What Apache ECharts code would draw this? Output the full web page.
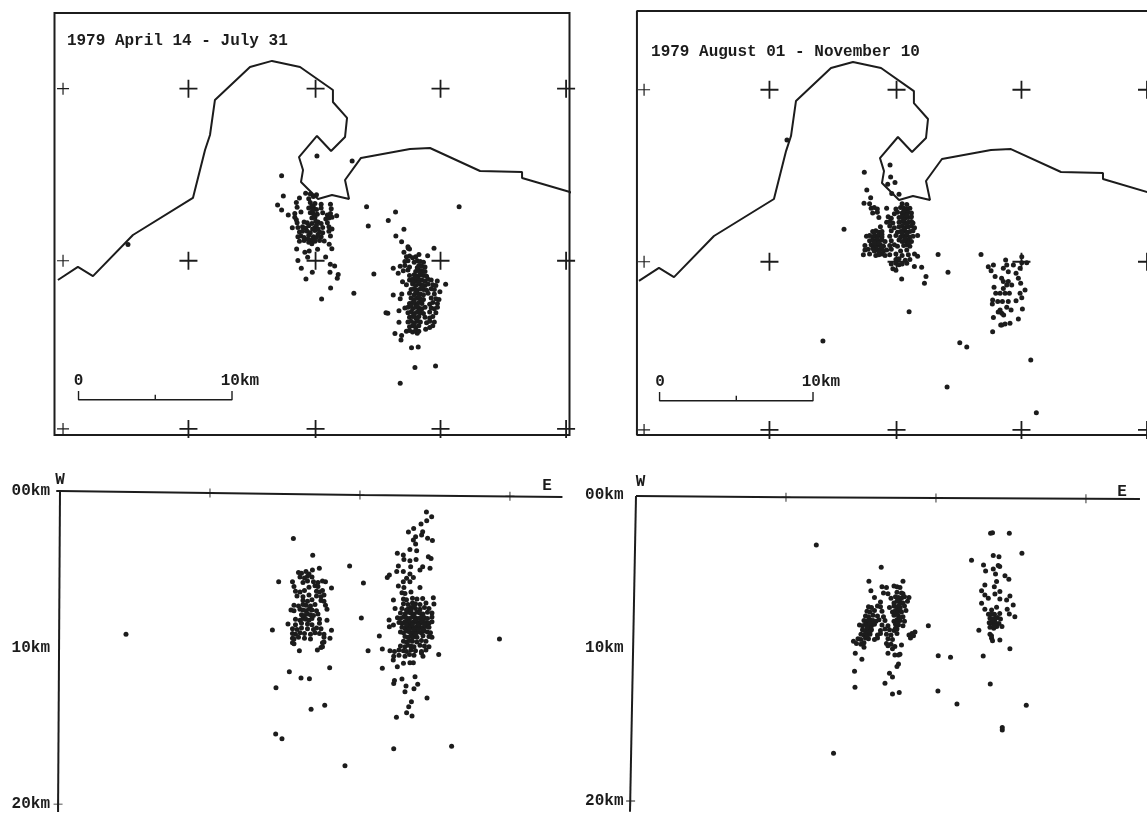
<!DOCTYPE html>
<html><head><meta charset="utf-8">
<script src="https://cdn.jsdelivr.net/npm/echarts@6/dist/echarts.min.js"></script>
<style>html,body{margin:0;padding:0;background:#fff}#c{width:1147px;height:813px}</style>
</head><body><div id="c"></div>
<script>
// Map panels: km east and km north from the map's lower-left corner
const coastline=[[0.32,9.81],[1.61,10.65],[2.58,10.06],[5.16,12.71],[9.03,15.10],[9.81,18.19],[10.13,19.16],[10.45,21.42],[12.71,23.55],[14.13,23.94],[15.94,23.55],[18.06,22.06],[18.06,21.29],[18.97,20.26],[18.84,19.03],[17.94,18.13],[17.03,19.10],[15.87,17.74],[16.13,16.90],[16.0,16.13],[17.10,15.03],[18.0,15.29],[19.10,15.03],[18.84,16.26],[19.87,17.68],[23.03,18.26],[24.32,18.32],[27.55,16.84],[30.26,16.77],[30.26,16.39],[33.35,15.48],[34.2,15.1]];
const crossEast=[0.65,8.74,16.94,25.0,33.1];
const crossNorth=[22.15,11.05,0.2];
const scaleBarKm=[[1.65,2.65],[1.65,2.08],[6.6,2.08],[6.6,2.4],[6.6,2.08],[11.55,2.08],[11.55,2.65]];
const augFrameKm=[[40,27.23],[0.19,27.23],[0.19,-0.13],[40,-0.13]];
const aprMapPoints=[[14.75,16.54],[14.86,15.23],[14.49,14.65],[14.75,14.32],[15.18,14.0],[15.44,13.18],[17.03,17.8],[19.3,17.48],[4.84,12.1],[26.2,14.54],[20.23,14.54],[22.1,14.2],[21.63,13.64],[20.34,13.29],[22.64,13.08],[22.12,12.65],[22.49,12.28],[24.58,11.85],[20.7,10.2],[19.41,8.95],[17.91,9.29],[17.33,8.58],[16.32,9.87],[18.34,9.92],[18.4,10.17],[17.87,10.3],[18.17,10.71],[17.89,10.82],[16.73,10.3],[16.02,10.56],[15.8,11.06],[16.43,11.27],[17.59,11.29],[17.99,11.83],[17.82,12.11],[17.07,11.79],[16.25,11.59],[15.72,11.81],[16.53,11.68],[17.5,12.32],[25.33,9.53],[24.79,9.74],[24.96,9.05],[21.95,8.84],[21.48,7.7],[21.6,7.67],[22.32,7.83],[22.32,7.08],[22.06,6.35],[22.45,5.94],[22.49,6.22],[23.13,5.44],[23.56,5.49],[23.35,4.17],[24.68,4.26],[22.4,3.14],[24.04,6.63],[23.5,6.37],[21.95,10.56],[22.27,10.24],[23.61,11.46],[24.17,11.38],[22.92,11.85],[22.64,11.59],[22.55,9.7],
[16.3,15.4],[16.6,15.35],[17.0,15.3],[15.9,15.1],[16.5,15.05],[16.8,15.2],[15.7,14.8],[16.6,14.8],[16.9,14.75],[17.3,14.7],[17.9,14.7],[15.75,14.5],[16.5,14.45],[16.8,14.5],[17.0,14.35],[17.3,14.45],[17.95,14.4],[15.6,14.1],[16.0,14.2],[16.6,14.15],[16.8,14.1],[17.05,14.05],[17.4,14.15],[17.7,14.0],[17.9,14.1],[15.6,13.85],[15.7,13.7],[16.7,13.8],[16.9,13.85],[17.6,13.75],[17.8,13.8],[18.0,13.85],[18.3,13.95],[15.75,13.5],[16.2,13.55],[16.4,13.5],[16.7,13.45],[17.1,13.55],[17.3,13.45],[17.7,13.5],[15.8,13.2],[16.1,13.25],[16.3,13.15],[16.5,13.3],[16.9,13.2],[17.1,13.1],[17.4,13.2],[17.8,13.25],[18.0,13.1],[15.9,12.9],[16.1,12.95],[16.6,12.85],[16.9,13.0],[17.2,12.9],[17.4,12.85],[17.8,12.95],[15.8,12.6],[16.0,12.65],[16.2,12.55],[16.5,12.7],[16.8,12.6],[17.0,12.55],[17.3,12.6],[17.9,12.65],[15.9,12.3],[16.2,12.35],[16.5,12.25],[16.7,12.4],[16.9,12.3],[17.2,12.35],
[16.7,14.6],[16.75,14.3],[16.85,13.95],[16.95,13.6],[17.0,13.35],[16.75,13.1],[16.4,12.95],[16.45,12.45],[16.7,12.15],[17.1,12.75],
[22.9,11.95],[23.0,11.8],[22.8,11.3],[23.0,11.35],[23.2,11.25],[23.4,11.3],[22.7,11.0],[22.9,11.05],[23.3,10.95],[23.5,11.05],[23.7,11.0],[23.9,10.95],[22.4,10.7],[22.7,10.75],[23.0,10.65],[23.6,10.75],[23.8,10.7],[24.0,10.65],[22.6,10.4],[22.9,10.45],[23.4,10.35],[23.6,10.45],[23.8,10.4],[24.0,10.35],[23.0,10.1],[23.3,10.15],[23.5,10.05],[23.7,10.15],[23.9,10.1],[24.1,10.05],[23.0,9.8],[23.2,9.85],[23.4,9.75],[23.6,9.85],[23.8,9.8],[24.0,9.75],[24.2,9.85],[24.4,9.8],[22.8,9.5],[23.2,9.55],[23.4,9.45],[23.6,9.55],[23.8,9.5],[24.0,9.45],[24.2,9.55],[24.5,9.5],[24.7,9.45],[23.1,9.2],[23.3,9.25],[23.5,9.15],[23.7,9.25],[23.9,9.2],[24.1,9.15],[24.4,9.25],[24.6,9.2],[22.5,8.9],[23.0,8.95],[23.3,8.85],[23.5,8.95],[23.7,8.9],[23.9,8.85],[24.2,8.95],[24.6,8.9],[22.4,8.6],[23.1,8.65],[23.3,8.55],[23.5,8.65],[23.7,8.6],[23.9,8.55],[24.4,8.65],[24.7,8.6],[24.9,8.55],[23.0,8.3],[23.2,8.35],[23.4,8.25],[23.6,8.35],[23.8,8.3],[24.3,8.25],[24.5,8.35],[24.8,8.3],[22.7,8.0],[22.9,8.05],[23.2,7.95],[23.4,8.05],[23.6,8.0],[23.8,7.95],[24.0,8.05],[24.4,8.0],[24.6,7.95],[24.8,8.05],[22.9,7.7],[23.1,7.75],[23.3,7.65],[23.5,7.75],[23.7,7.7],[23.9,7.65],[24.3,7.75],[24.7,7.7],[23.0,7.4],[23.2,7.45],[23.4,7.35],[23.6,7.45],[24.0,7.4],[24.3,7.35],[24.5,7.45],[22.9,7.1],[23.1,7.15],[23.3,7.05],[23.5,7.15],[23.7,7.1],[24.1,7.05],[24.3,7.15],[24.6,7.1],[23.0,6.8],[23.2,6.85],[23.4,6.75],[23.6,6.85],[24.3,6.75],[24.5,6.85],[22.8,6.5],[23.0,6.55],[23.2,6.45],[23.4,6.55],[23.6,6.5],
[23.5,10.6],[23.7,10.25],[23.4,9.95],[23.6,9.65],[23.8,9.35],[23.4,9.05],[23.6,8.75],[23.8,8.45],[23.3,8.4],[23.5,8.15],[23.7,7.85],[23.3,7.55],[23.5,7.3],[23.3,6.95],[23.1,8.15],[23.2,9.7]];
const augMapPoints=[[14.86,16.82],[16.52,17.29],[16.56,16.52],[16.84,16.17],[16.37,16.05],[15.02,15.68],[15.27,15.18],[14.84,14.82],[17.1,15.4],[16.63,15.46],[13.55,13.14],[19.62,11.51],[22.39,11.51],[20.26,10.37],[18.84,10.09],[18.74,9.66],[18.09,10.75],[18.56,10.69],[17.27,9.94],[17.75,7.83],[21.02,5.83],[21.47,5.55],[25.6,4.71],[20.2,2.97],[25.96,1.31],[23.14,6.54],[24.8,7.36],[25.06,8.0],[23.19,7.46],[23.66,6.97],[12.19,5.94],[9.87,18.9],
[17.3,14.8],[17.6,14.75],[15.2,14.8],[15.3,14.5],[15.5,14.55],[15.7,14.45],[16.3,14.5],[16.9,14.45],[17.2,14.55],[17.4,14.5],[17.6,14.45],[17.8,14.5],[15.4,14.2],[15.7,14.25],[16.8,14.15],[17.0,14.25],[17.3,14.2],[17.5,14.15],[17.7,14.25],[17.9,14.2],[15.8,13.9],[16.4,13.95],[16.6,13.85],[17.1,13.9],[17.3,13.95],[17.5,13.85],[17.7,13.9],[17.9,13.95],[16.3,13.6],[16.5,13.65],[16.7,13.55],[17.1,13.6],[17.3,13.65],[17.5,13.55],[17.7,13.6],[17.9,13.65],[18.0,13.55],[15.9,13.3],[16.5,13.35],[16.8,13.25],[17.1,13.3],[17.3,13.35],[17.5,13.25],[17.7,13.3],[17.9,13.35],[18.1,13.25],[15.4,13.0],[15.6,13.05],[15.8,12.95],[16.0,13.0],[16.6,13.05],[17.0,12.95],[17.2,13.0],[17.4,13.05],[17.6,12.95],[17.8,13.0],[18.0,13.05],[15.0,12.7],[15.2,12.75],[15.4,12.65],[15.6,12.7],[15.8,12.75],[16.0,12.65],[16.5,12.7],[16.9,12.75],[17.2,12.65],[17.4,12.7],[17.6,12.75],[17.8,12.65],[18.0,12.7],[18.3,12.75],[15.2,12.4],[15.4,12.45],[15.6,12.35],[15.8,12.4],[16.0,12.45],[16.2,12.35],[16.6,12.4],[17.1,12.45],[17.3,12.35],[17.5,12.4],[17.7,12.45],[17.9,12.35],[14.9,12.1],[15.3,12.15],[15.5,12.05],[15.7,12.1],[15.9,12.15],[16.1,12.05],[16.5,12.1],[16.8,12.15],[17.0,12.05],[17.4,12.1],[17.6,12.15],[17.8,12.05],[14.9,11.8],[15.1,11.85],[15.5,11.75],[15.7,11.8],[15.9,11.85],[16.1,11.75],[16.3,11.8],[16.6,11.85],[17.2,11.75],[17.6,11.8],[14.8,11.5],[15.2,11.55],[15.6,11.45],[15.8,11.5],[16.0,11.55],[16.2,11.45],[16.5,11.5],[16.9,11.55],[17.3,11.45],[17.7,11.5],[18.1,11.55],[18.3,11.4],[16.9,11.2],[17.1,11.25],[17.5,11.15],[17.8,11.2],[16.6,10.9],[16.9,10.95],[17.1,10.85],[17.3,10.9],[17.6,10.95],[16.7,10.6],[16.9,10.5],
[17.4,14.3],[17.6,14.05],[17.4,13.75],[17.6,13.45],[17.4,13.15],[17.6,12.85],[17.5,12.55],[17.7,12.25],[17.3,12.9],[15.5,12.9],[15.7,12.55],[15.5,12.25],[15.8,12.25],[15.6,11.95],[15.8,11.65],[16.0,12.8],[16.0,12.0],[15.4,11.9]];
const augMapE=[[22.86,10.73],[23.19,10.84],[23.04,10.47],[23.98,11.16],[24.05,10.84],[23.83,10.63],[24.15,10.41],[24.48,10.84],[25.02,11.38],[25.02,10.99],[25.34,10.99],[24.91,10.63],[24.65,10.3],[24.8,9.98],[24.95,9.66],[23.3,10.09],[23.72,9.98],[23.83,9.77],[24.05,9.55],[24.37,9.55],[24.15,9.77],[23.23,9.4],[23.83,9.33],[23.62,9.01],[23.94,9.01],[24.22,9.01],[23.34,9.01],[25.23,9.23],[24.91,9.01],[25.02,8.73],[24.65,8.54],[23.14,8.58],[23.12,8.33],[23.47,8.48],[23.77,8.48],[24.15,8.48],[24.05,8.11],[24.33,7.94],[23.62,7.94],[23.73,7.72],[23.5,7.8],[23.85,7.62],[23.94,7.03],[24.26,7.08],[23.73,6.97]];
// Depth sections: km east of the W end, depth in km
const aprDepthPoints=[[15.56,3.03],[16.85,4.11],[17.29,4.94],[16.83,5.05],[19.31,4.79],[20.23,5.88],[14.58,5.79],[20.09,8.12],[14.16,8.88],[20.54,10.2],[21.29,9.27],[21.49,10.1],[21.49,11.33],[25.25,10.44],[17.98,11.29],[15.96,10.2],[17.16,10.16],[15.29,11.54],[16.07,11.95],[16.63,12.0],[14.4,12.57],[16.74,13.95],[17.65,13.69],[14.38,15.53],[14.8,15.83],[19.0,17.55],[22.25,16.46],[26.11,16.3],[24.47,13.23],[22.43,14.46],[23.47,14.38],[23.11,14.16],[23.25,13.78],[23.43,13.46],[23.0,12.82],[23.07,12.46],[23.6,12.63],[23.85,12.35],[23.67,11.86],[22.8,12.01],[22.25,12.29],[22.3,12.1],[22.49,11.22],[22.9,11.01],[23.33,10.97],[23.56,10.97],[22.22,10.8],[22.25,10.55],[4.4,9.15],[29.3,9.45],
[24.43,1.34],[24.78,1.64],[24.45,1.9],[24.07,2.11],[23.58,2.39],[24.18,2.6],[23.23,2.62],[24.11,2.81],[23.71,2.92],[24.51,3.02],[24.83,3.17],[23.56,3.13],[23.71,3.39],[23.33,3.73],[23.78,3.81],[22.49,3.98],[22.89,4.09],[24.56,4.2],[24.74,4.32],[22.93,4.37],[23.33,4.45],[23.74,4.37],[24.18,4.84],[24.0,5.05],[24.67,4.94],[22.56,4.79],[23.38,4.84],[22.45,5.15],[21.96,5.37],[21.82,5.52],[22.89,5.15],[23.33,5.3],[23.56,5.52],[23.11,5.58],[22.89,5.79],[22.56,6.07],[23.33,5.79],[22.93,6.16],[24.0,6.16],[22.23,6.96],[24.89,6.82],[24.93,7.22],[24.18,6.86],[22.34,7.5],[21.94,8.24],[22.23,8.56],[21.96,8.67],
[22.8,6.5],[23.0,6.55],[23.4,6.45],[22.9,6.9],[23.1,6.95],[23.5,6.85],[23.8,6.9],[22.9,7.2],[23.2,7.25],[23.5,7.15],[23.7,7.2],[24.0,7.25],[24.4,7.15],[22.8,7.5],[23.2,7.55],[23.4,7.45],[23.7,7.5],[24.0,7.55],[24.3,7.45],[24.6,7.5],[22.7,7.8],[23.0,7.85],[23.2,7.75],[23.4,7.8],[23.6,7.85],[23.8,7.75],[24.0,7.8],[24.2,7.85],[24.5,7.75],[24.8,7.8],[22.5,8.1],[22.7,8.15],[22.9,8.05],[23.1,8.1],[23.3,8.15],[23.5,8.05],[23.7,8.1],[23.9,8.15],[24.1,8.05],[24.3,8.1],[24.5,8.15],[24.8,8.05],[22.6,8.4],[22.8,8.45],[23.0,8.35],[23.2,8.4],[23.4,8.45],[23.6,8.35],[23.8,8.4],[24.0,8.45],[24.2,8.35],[24.4,8.4],[24.6,8.45],[24.8,8.35],[22.8,8.7],[23.0,8.75],[23.2,8.65],[23.4,8.7],[23.6,8.75],[23.8,8.65],[24.0,8.7],[24.2,8.75],[24.4,8.65],[24.6,8.7],[22.7,9.0],[22.9,9.05],[23.1,8.95],[23.3,9.0],[23.5,9.05],[23.7,8.95],[23.9,9.0],[24.1,9.05],[24.3,8.95],[24.5,9.0],[24.7,9.05],[23.0,9.3],[23.2,9.35],[23.4,9.25],[23.6,9.3],[23.8,9.35],[24.2,9.25],[24.6,9.3],[24.8,9.35],[22.9,9.6],[23.1,9.65],[23.3,9.55],[23.5,9.6],[23.8,9.65],[24.1,9.55],[24.4,9.6],[22.7,9.9],[23.0,9.95],[23.2,9.85],[23.4,9.9],[23.6,9.95],[24.0,9.85],[24.3,9.9],[24.6,9.95],[22.0,10.2],[22.3,10.25],[22.6,10.15],[22.9,10.2],[23.1,10.25],[23.4,10.15],[23.7,10.2],[24.1,10.25],[24.4,10.15],[22.6,10.5],[23.0,10.55],[23.3,10.45],[23.6,10.5],[24.2,10.55],[24.1,10.35],
[23.3,8.3],[23.5,8.55],[23.7,8.25],[23.9,8.55],[24.1,8.3],[24.3,8.55],[23.1,8.55],[23.3,8.85],[23.6,8.85],[23.9,8.85],[24.2,8.9],[23.5,9.35],[23.7,9.15],[23.4,7.6],[23.1,7.6],[23.6,7.35],
[15.9,5.2],[16.1,5.25],[16.4,5.15],[16.6,5.3],[16.0,5.5],[16.3,5.55],[16.5,5.45],[16.8,5.5],[15.5,5.8],[16.2,5.85],[16.5,5.75],[16.9,5.8],[17.2,5.85],[17.5,5.75],[17.7,5.8],[15.6,6.1],[16.6,6.15],[17.0,6.05],[17.2,6.1],[18.1,6.2],[15.7,6.4],[16.0,6.45],[16.3,6.35],[17.1,6.4],[17.3,6.45],[17.5,6.35],[15.8,6.7],[16.2,6.75],[16.6,6.65],[17.1,6.7],[17.4,6.75],[17.6,6.65],[16.2,7.0],[16.5,7.05],[16.8,6.95],[17.4,7.0],[17.6,7.05],[15.6,7.3],[15.9,7.35],[16.2,7.25],[16.4,7.3],[16.7,7.35],[17.0,7.25],[17.7,7.3],[15.4,7.6],[15.6,7.65],[16.0,7.55],[16.2,7.6],[16.4,7.65],[16.6,7.55],[16.8,7.6],[17.1,7.65],[17.8,7.55],[16.1,7.9],[16.3,7.95],[16.5,7.85],[16.7,7.9],[16.9,7.95],[17.2,7.85],[15.7,8.2],[16.0,8.25],[16.2,8.15],[16.4,8.2],[16.6,8.25],[16.8,8.15],[17.3,8.2],[17.8,8.25],[15.2,8.5],[15.7,8.55],[16.1,8.45],[16.5,8.5],[16.8,8.55],[17.3,8.45],[15.5,8.8],[15.8,8.85],[16.1,8.75],[16.5,8.8],[16.9,8.85],[17.1,8.75],[17.4,8.8],[18.1,8.9],[15.5,9.1],[15.7,9.15],[16.0,9.05],[16.3,9.1],[16.7,9.15],[17.0,9.05],[17.3,9.1],[17.6,9.15],[15.5,9.4],[15.6,9.45],[15.9,9.35],[16.3,9.4],[16.7,9.45],[17.6,9.35],[18.0,9.4],[15.5,9.7],[15.6,9.75],[17.6,9.65],[17.5,9.7],[17.4,10.0],[17.5,9.95]];
const augDepthPoints=[[12.02,3.26],[16.35,4.72],[15.53,5.64],[17.8,5.64],[15.66,6.25],[19.49,8.54],[20.15,10.5],[20.97,10.6],[20.13,12.81],[21.4,13.66],[13.17,16.88],[14.6,12.57],[14.57,11.52],[15.06,10.74],[14.62,10.34],[24.42,15.36],[24.42,15.2],[26.02,13.74],[23.62,12.35],[23.15,10.52],[24.93,10.04],[22.86,8.84],[23.64,2.5],[23.77,2.46],[24.89,2.5],[25.73,3.81],[22.37,4.27],[23.82,3.96],[24.2,4.03],[23.17,4.57],[23.31,4.96],[23.82,4.83],[24.15,4.61],[24.25,4.68],[23.97,5.16],[24.6,5.27],[24.86,5.51],[24.04,5.66],[23.26,5.88],[23.89,5.99],[23.04,6.25],[24.26,6.31],[23.93,6.47],[23.26,6.53],[23.49,6.75],[24.93,6.6],[24.71,6.86],[24.26,6.79],[25.15,7.19],[24.75,7.47],[24.89,7.77],[25.26,7.95],[23.04,7.08],[23.26,7.47],[23.71,7.51],[24.04,7.34],[23.5,7.8],[23.9,7.8],[24.25,7.75],[23.6,8.05],[23.8,8.1],[24.1,8.0],[24.3,8.1],[23.55,8.35],[23.75,8.4],[23.95,8.3],[24.2,8.4],[23.6,8.65],[23.85,8.7],[24.05,8.6],[24.4,8.6],[23.71,9.36],[24.26,9.47],[23.77,9.52],[23.6,9.1],[23.7,9.2],[23.7,7.8],[23.95,8.05],[23.75,8.15],[23.9,8.55],
[16.4,6.0],[16.7,6.05],[17.2,5.95],[17.4,6.0],[17.6,6.05],[16.5,6.4],[16.8,6.45],[17.4,6.35],[17.7,6.4],[17.8,6.45],[15.9,6.7],[17.0,6.75],[17.3,6.65],[17.5,6.7],[17.7,6.75],[17.9,6.65],[18.2,6.7],[16.3,7.0],[17.2,7.05],[17.4,6.95],[17.6,7.0],[17.8,7.05],[18.1,6.95],[15.5,7.3],[15.7,7.35],[16.1,7.25],[16.3,7.3],[16.9,7.35],[17.2,7.25],[17.4,7.3],[17.6,7.35],[17.9,7.25],[15.4,7.6],[15.6,7.65],[15.9,7.55],[16.4,7.6],[17.1,7.65],[17.3,7.55],[17.5,7.6],[17.7,7.65],[18.0,7.55],[15.3,7.9],[15.5,7.95],[15.8,7.85],[16.1,7.9],[16.5,7.95],[17.2,7.85],[17.5,7.9],[17.8,7.95],[15.2,8.2],[15.4,8.25],[15.6,8.15],[15.8,8.2],[16.0,8.25],[16.2,8.15],[16.6,8.2],[17.2,8.25],[17.4,8.15],[17.6,8.2],[17.9,8.25],[14.9,8.5],[15.1,8.55],[15.3,8.45],[15.5,8.5],[15.7,8.55],[15.9,8.45],[16.4,8.5],[16.8,8.55],[17.3,8.45],[17.5,8.5],[17.8,8.55],[15.1,8.8],[15.3,8.85],[15.5,8.75],[15.7,8.8],[16.3,8.85],[16.6,8.75],[16.9,8.8],[17.2,8.85],[17.4,8.75],[15.0,9.1],[15.2,9.15],[15.4,9.05],[15.6,9.1],[16.1,9.15],[16.3,9.05],[16.7,9.1],[17.0,9.15],[17.4,9.05],[18.2,9.15],[18.4,9.05],[18.6,8.95],[14.8,9.4],[15.0,9.45],[15.3,9.35],[15.5,9.4],[15.9,9.45],[16.1,9.35],[16.8,9.4],[17.1,9.45],[18.3,9.35],[18.5,9.2],[14.5,9.55],[14.7,9.7],[15.0,9.75],[15.2,9.65],[16.7,9.7],[17.0,9.75],[15.2,9.95],[16.8,9.85],[17.26,9.9],[17.7,9.8],[17.1,10.05],[16.8,10.34],[17.26,10.45],[17.5,10.45],[17.6,10.4],[17.4,11.2],[17.5,11.05],[16.9,11.65],[17.1,11.9],[16.6,12.3],[17.55,12.9],[17.1,13.0],
[17.45,6.9],[17.6,7.45],[17.4,7.75],[17.6,8.05],[17.45,8.4],[17.3,8.7],[17.55,7.2],[15.5,8.2],[15.4,8.65],[15.6,8.95],[15.3,9.05],[15.8,8.4],[15.6,8.4],[15.4,9.25]];
const depthTickLabels={0:'00km',10:'10km',20:'20km'};
const aprSurfaceTrace=[[-0.25,0],[0,0],[10,0.13],[20,0.26],[33.5,0.38]];
const augSurfaceTrace=[[0,0.07],[10,0.14],[20,0.2],[33.6,0.26]];
const aprSectionTicks=[[10,0.13],[20,0.26],[30,0.34],[-0.13,20]];
const augSectionTicks=[[10,0.14],[20,0.2],[30,0.24],[-0.36,20]];
const aprDepthAxisTrace=[[0,0],[-0.13,20.5]];
const augDepthAxisTrace=[[0,0.07],[-0.4,20.7]];

const FONT='"Liberation Mono",monospace',INK='#1c1c1c';
const PLUS='path://M9 0h2v20h-2zM0 9h20v2H0z';
const chart=echarts.init(document.getElementById('c'));
const note=(g,x,y,text,align)=>({type:'scatter',xAxisIndex:g,yAxisIndex:g,silent:true,clip:false,symbolSize:0,z:6,itemStyle:{opacity:1},
 data:[[x,y]],label:{show:true,position:'inside',formatter:text,align:align||'center',verticalAlign:'middle',fontFamily:FONT,fontSize:16,fontWeight:'bold',color:INK}});
const dots=(g,d)=>({type:'scatter',xAxisIndex:g,yAxisIndex:g,silent:true,symbol:'circle',symbolSize:5,data:d,itemStyle:{color:INK,opacity:1},z:4});
const trace=(g,d,w,clip)=>({type:'line',xAxisIndex:g,yAxisIndex:g,silent:true,symbol:'none',clip:clip,data:d,lineStyle:{color:INK,width:w},z:3});
const plus=(g,d,s,clip)=>({type:'scatter',xAxisIndex:g,yAxisIndex:g,silent:true,clip:clip,symbol:PLUS,symbolSize:s,data:d,itemStyle:{color:INK,opacity:1},z:2});
const crosses=[];crossNorth.forEach(n=>crossEast.forEach(e=>crosses.push([e,n])));
const crossSize=v=>v[0]===crossEast[0]?12:18;
const series=[
 trace(0,coastline,2,true),trace(1,coastline,2,true),
 plus(0,crosses,crossSize,true),plus(1,crosses,crossSize,true),
 trace(0,scaleBarKm,1.4,true),trace(1,scaleBarKm,1.4,true),
 trace(1,augFrameKm,2,false),
 dots(0,aprMapPoints),dots(1,augMapPoints),dots(1,augMapE),dots(2,aprDepthPoints),dots(3,augDepthPoints),
 trace(2,aprSurfaceTrace,2,false),trace(3,augSurfaceTrace,2,false),
 trace(2,aprDepthAxisTrace,2,false),trace(3,augDepthAxisTrace,2,false),
 plus(2,aprSectionTicks,9,false),plus(3,augSectionTicks,9,false),
 note(0,0.9,25.2,'1979 April 14 - July 31','left'),note(1,1.1,24.6,'1979 August 01 - November 10','left'),
 note(0,1.65,3.3,'0'),note(0,12.06,3.3,'10km'),note(1,1.68,3.3,'0'),note(1,12.06,3.3,'10km'),
 note(2,0,-0.72,'W'),note(2,32.47,-0.32,'E'),note(3,0.3,-0.85,'W'),note(3,32.4,-0.2,'E')
];
const mapAxisX=(min,max,g)=>({type:'value',gridIndex:g,min:min,max:max,show:false});
const sectionY=(g,max,margin)=>({type:'value',gridIndex:g,inverse:true,min:0,max:max,interval:10,axisLine:{show:false},axisTick:{show:false},splitLine:{show:false},
 axisLabel:{showMaxLabel:false,margin:margin,fontFamily:FONT,fontSize:16,fontWeight:'bold',color:INK,formatter:v=>depthTickLabels[v]||''}});
chart.setOption({animation:false,backgroundColor:'#fff',
 grid:[
  {left:54.5,top:13,width:515,height:422,show:true,borderColor:INK,borderWidth:2,backgroundColor:'transparent'},
  {left:634,top:11,width:513,height:424},
  {left:54,top:491,width:511,height:322},
  {left:628.5,top:495,width:512.5,height:318}],
 xAxis:[mapAxisX(0.1,33.32,0),mapAxisX(0,33.1,1),mapAxisX(-0.4,33.67,2),mapAxisX(-0.5,33.67,3)],
 yAxis:[{type:'value',gridIndex:0,min:-0.19,max:27.03,show:false},{type:'value',gridIndex:1,min:-0.13,max:27.23,show:false},sectionY(2,20.57,4),sectionY(3,20.78,5)],
 series:series});
</script></body></html>
